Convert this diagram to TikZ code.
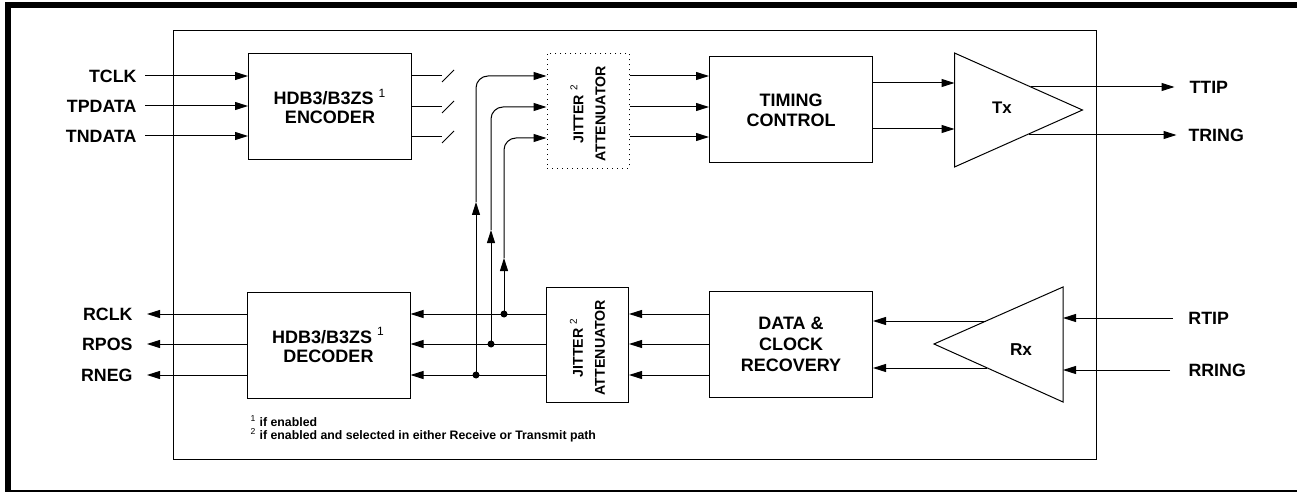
\documentclass[tikz,border=0pt]{standalone}
\usepackage{fontspec}
\setmainfont{Liberation Sans}
\usetikzlibrary{arrows.meta}

\begin{document}
\begin{tikzpicture}[x=0.5pt,y=-0.5pt,line width=0.5pt,
    pointer/.style={-{Triangle[length=6.5pt,width=4pt]}},
    block/.style={draw,inner sep=0pt,align=center,minimum width=81.5pt,minimum height=53pt,font=\bfseries\fontsize{9}{10.5}\selectfont},
    jitter/.style={draw,inner sep=0pt,minimum width=41pt,minimum height=57.5pt},
    pin/.style={inner sep=0pt,font=\bfseries\fontsize{8.9}{10}\selectfont}]

  \path[use as bounding box] (0,0) rectangle (1297,492);
  \draw[line width=3pt] (1297,5.5) -- (8,5.5) -- (8,492);
  \draw[line width=1pt] (8,491) -- (1297,491);
  \draw (173,31) rectangle (1096,459);

  % blocks
  \node[block,font=\bfseries\fontsize{9}{9.5}\selectfont] (enc) at (330,106.5) {HDB3/B3ZS \textsuperscript{\mdseries 1}\\ENCODER};
  \node[block,font=\bfseries\fontsize{9}{9.5}\selectfont] (dec) at (328.5,345) {HDB3/B3ZS \textsuperscript{\mdseries 1}\\DECODER};
  \node[jitter,dotted] (jat) at (588,111) {};
  \node[jitter] (jab) at (587.5,344.5) {};
  \foreach \ja in {jat,jab}
    \node[rotate=90,align=center,font=\bfseries\fontsize{7.1}{11}\selectfont] (\ja lbl) at ([yshift=-1.5pt]\ja) {JITTER \textsuperscript{\mdseries 2}\\ATTENUATOR};
  \node[block,font=\bfseries\fontsize{9}{10}\selectfont] (tim) at (791,110) {TIMING\\CONTROL};
  \node[block] (dcr) at (791,344) {DATA \&\\CLOCK\\RECOVERY};

  % transmit path
  \foreach \name/\txt/\y in {tclk/TCLK/76,tpdata/TPDATA/106,tndata/TNDATA/136}{
    \node[pin,anchor=east,inner xsep=4pt] (\name) at (145,\y) {\txt};
    \draw[pointer] (\name.east) -- (\name.east -| enc.west);
  }
  \foreach \y in {76,107,137}{
    \draw (enc.east |- 0,\y) -- (442,\y);
    \draw (442,\y+6) -- (454,\y-6);
    \draw[pointer] (jat.east |- 0,\y) -- (tim.west |- 0,\y);
  }

  \coordinate (txa) at (954.5,53);
  \coordinate (txb) at (1082.5,110);
  \coordinate (txc) at (954.5,167);
  \draw (txa) -- (txb) -- (txc) -- cycle;
  \node[pin,font=\bfseries\fontsize{8.4}{9}\selectfont] (txlbl) at (1002,108) {Tx};
  \foreach \y in {83,129}
    \draw[pointer] (tim.east |- 0,\y) -- (txa |- 0,\y);
  \node[pin,anchor=west,inner xsep=7.25pt] (ttip) at (1174.5,87) {TTIP};
  \node[pin,anchor=west,inner xsep=5.75pt] (tring) at (1176.5,135) {TRING};
  \coordinate (ttipout) at (1031,87);
  \coordinate (tringout) at (1029,135);
  \draw[pointer] (ttipout) -- (ttip.west);
  \draw[pointer] (tringout) -- (tring.west);

  % receive path
  \coordinate (rxa) at (1063,287);
  \coordinate (rxb) at (934,344);
  \coordinate (rxc) at (1063,402);
  \draw (rxa) -- (rxb) -- (rxc) -- cycle;
  \node[pin,font=\bfseries\fontsize{8.6}{9}\selectfont] (rxlbl) at (1021,350) {Rx};
  \node[pin,anchor=west,inner xsep=7.7pt] (rtip) at (1172.5,318) {RTIP};
  \node[pin,anchor=west,inner xsep=9pt] (rring) at (1170,370) {RRING};
  \draw[pointer] (rtip.west) -- (rtip.west -| rxa);
  \draw[pointer] (rring.west) -- (rring.west -| rxa);
  \coordinate (rxout1) at (986,321);
  \coordinate (rxout2) at (987,368);
  \draw[pointer] (rxout1) -- (rxout1 -| dcr.east);
  \draw[pointer] (rxout2) -- (rxout2 -| dcr.east);

  \foreach \y in {314,344,375}{
    \draw[pointer] (dcr.west |- 0,\y) -- (jab.east |- 0,\y);
    \draw[pointer] (jab.west |- 0,\y) -- (dec.east |- 0,\y);
  }
  \foreach \name/\txt/\y in {rclk/RCLK/314,rpos/RPOS/344,rneg/RNEG/375}{
    \node[pin,anchor=east,inner xsep=7pt] (\name) at (147,\y) {\txt};
    \draw[pointer] (\name.east -| dec.west) -- (\name.east);
  }

  % loop back into the transmit attenuator
  \foreach \x/\yb/\ya/\yt in {476/375/202/76,491/344/230/107,504/314/258/138}{
    \fill (\x,\yb) circle [radius=1.75pt];
    \draw[pointer] (\x,\yb) -- (\x,\ya);
    \draw[pointer,rounded corners=6pt] (\x,\ya) -- (\x,\yt) -- (jat.west |- 0,\yt);
  }

  \node[anchor=west,inner sep=0pt,align=left,font=\bfseries\fontsize{6.15}{6.5}\selectfont] (notes) at (250,428.5)
    {\textsuperscript{\mdseries 1} if enabled\\\textsuperscript{\mdseries 2} if enabled and selected in either Receive or Transmit path};
\end{tikzpicture}
\end{document}
